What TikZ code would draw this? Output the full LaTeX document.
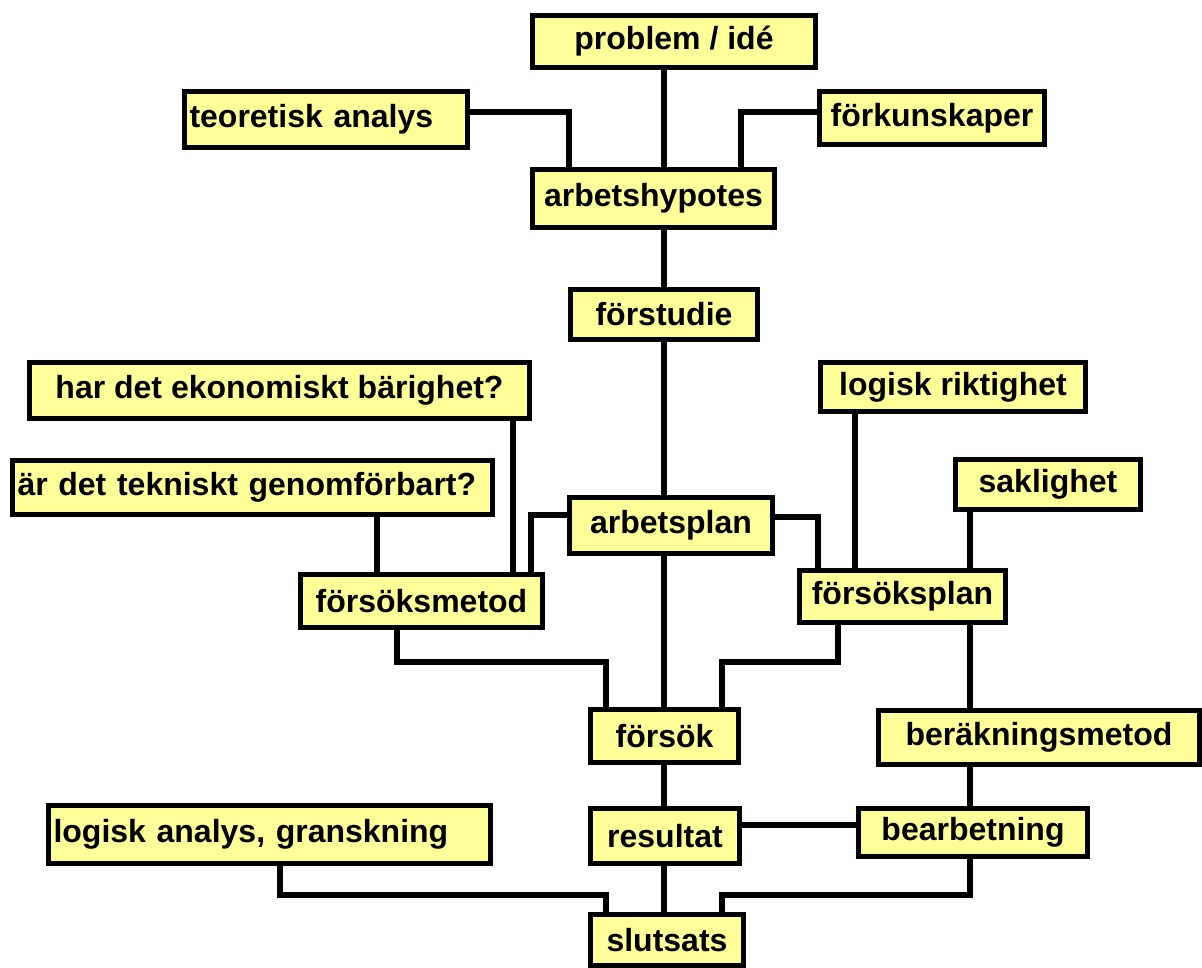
\documentclass[tikz,border=0pt]{standalone}
\usepackage{fontspec}
\setmainfont{Liberation Sans}
\pgfdeclarelayer{bg}
\pgfsetlayers{bg,main}
\definecolor{boxfill}{RGB}{255,255,153}
\begin{document}
\begin{tikzpicture}[x=1pt,y=-1pt,
  box/.style={draw=black, fill=boxfill, line width=5.5pt, rectangle, inner sep=0pt,
    font=\fontsize{32}{36}\selectfont\bfseries},
  lbox/.style={box, align=left, inner xsep=5pt},
  conn/.style={draw=black, line width=5.5pt}]
\path[use as bounding box] (0,0) rectangle (1202,967);
% boxes
\node[box, minimum width=283, minimum height=52] (prob) at (674,41.5) {problem / idé};
\node[lbox, text width=273, minimum height=56] (teo) at (326,119.5) {teoretisk analys};
\node[box, minimum width=225, minimum height=53] (fork) at (932,118) {förkunskaper};
\node[box, minimum width=242, minimum height=58] (hyp) at (653.5,198.5) {arbetshypotes};
\node[box, minimum width=187, minimum height=50] (fstud) at (664,314.5) {förstudie};
\node[box, minimum width=500, minimum height=56] (ekon) at (279.5,390.5) {har det ekonomiskt bärighet?};
\node[lbox, text width=470, minimum height=54] (tekn) at (252.5,487.5) {är det tekniskt genomförbart?};
\node[box, minimum width=242, minimum height=53] (fmet) at (421.5,601) {försöksmetod};
\node[box, minimum width=203, minimum height=56] (aplan) at (671,525.5) {arbetsplan};
\node[box, minimum width=206, minimum height=52] (fplan) at (902.5,596.5) {försöksplan};
\node[box, minimum width=265, minimum height=49] (logr) at (953,387) {logisk riktighet};
\node[box, minimum width=185, minimum height=50] (sakl) at (1048,484.5) {saklighet};
\node[box, minimum width=148, minimum height=53] (fsok) at (664.5,736) {försök};
\node[box, minimum width=321, minimum height=54] (berak) at (1039,737.5) {beräkningsmetod};
\node[box, minimum width=149, minimum height=55] (res) at (665,836) {resultat};
\node[box, minimum width=229, minimum height=48] (bearb) at (973,832.5) {bearbetning};
\node[lbox, text width=432, minimum height=58] (loga) at (269.5,834.5) {logisk analys, granskning};
\node[box, minimum width=153, minimum height=51] (slut) at (667,940) {slutsats};
% rail coordinates
\coordinate (xT) at (664,0);
\coordinate (xA) at (569,0);
\coordinate (xB) at (741,0);
\coordinate (xC) at (513,0);
\coordinate (xD) at (377,0);
\coordinate (xE) at (531,0);
\coordinate (xF) at (818,0);
\coordinate (xG) at (855,0);
\coordinate (xH) at (970,0);
\coordinate (xI) at (397,0);
\coordinate (xJ) at (606,0);
\coordinate (xK) at (838,0);
\coordinate (xL) at (722,0);
\coordinate (xM) at (280,0);
\coordinate (y1) at (0,112);
\coordinate (y2) at (0,515);
\coordinate (y3) at (0,517);
\coordinate (y4) at (0,662);
\coordinate (y5) at (0,825);
\coordinate (y6) at (0,895);
\begin{pgfonlayer}{bg}
% trunk
\draw[conn] (prob.south -| xT) -- (hyp.north -| xT);
\draw[conn] (hyp.south -| xT) -- (fstud.north -| xT);
\draw[conn] (fstud.south -| xT) -- (aplan.north -| xT);
\draw[conn] (aplan.south -| xT) -- (fsok.north -| xT);
\draw[conn] (fsok.south -| xT) -- (res.north -| xT);
\draw[conn] (res.south -| xT) -- (slut.north -| xT);
% top side inputs
\draw[conn] (teo.east |- y1) -| (hyp.north -| xA);
\draw[conn] (fork.west |- y1) -| (hyp.north -| xB);
% left inputs to försöksmetod
\draw[conn] (ekon.south -| xC) -- (fmet.north -| xC);
\draw[conn] (tekn.south -| xD) -- (fmet.north -| xD);
\draw[conn] (aplan.west |- y2) -| (fmet.north -| xE);
% right inputs to försöksplan
\draw[conn] (aplan.east |- y3) -| (fplan.north -| xF);
\draw[conn] (logr.south -| xG) -- (fplan.north -| xG);
\draw[conn] (sakl.south -| xH) -- (fplan.north -| xH);
% into försök
\draw[conn] (fmet.south -| xI) -- (xI |- y4) -| (fsok.north -| xJ);
\draw[conn] (fplan.south -| xK) -- (xK |- y4) -| (fsok.north -| xL);
% right chain
\draw[conn] (fplan.south -| xH) -- (berak.north -| xH);
\draw[conn] (berak.south -| xH) -- (bearb.north -| xH);
\draw[conn] (res.east |- y5) -- (bearb.west |- y5);
% into slutsats
\draw[conn] (loga.south -| xM) -- (xM |- y6) -| (slut.north -| xJ);
\draw[conn] (bearb.south -| xH) -- (xH |- y6) -| (slut.north -| xL);
\end{pgfonlayer}
\end{tikzpicture}
\end{document}
